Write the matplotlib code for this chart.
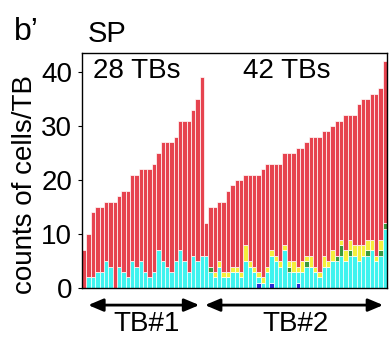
import numpy as np
import matplotlib.pyplot as plt

plt.rcParams['font.family'] = ['Liberation Sans', 'DejaVu Sans']

# TB#1 (28 TBs) and TB#2 (42 TBs), counts of cells per TB
total1 = [7, 10, 14, 15, 15, 16, 16, 16, 17, 18, 18, 21, 21, 22, 22, 22, 23, 25,
          27, 27, 27, 28, 31, 31, 31, 33, 35, 39]
cyan1 = [0, 2, 2, 3, 3, 5, 4, 0, 4, 3, 2, 5, 4, 5, 3, 2, 3, 7, 5, 4, 3, 5, 7, 5,
         3, 6, 5, 6]

total2 = [12, 15, 15, 16, 16, 18, 19, 20, 20, 21, 21, 21, 21, 22, 23, 23, 23, 23,
          25, 25, 25, 26, 26, 27, 28, 28, 28, 29, 29, 30, 31, 31, 32, 32, 32, 34,
          35, 35, 36, 36, 37, 42]
blue2 = [0, 0, 0, 0, 0, 0, 0, 0, 0, 0, 0, 0, 1, 0, 0, 1, 0, 0, 0, 0, 0, 1, 0, 0,
         0, 0, 0, 0, 0, 0, 0, 0, 0, 0, 0, 0, 0, 0, 0, 0, 0, 0]
cyan2 = [6, 3, 2, 4, 2, 2, 3, 3, 2, 5, 4, 3, 1, 1, 3, 5, 5, 4, 7, 3, 3, 2, 3, 4,
         4, 3, 2, 4, 4, 5, 5, 6, 5, 6, 6, 5, 6, 6, 7, 5, 6, 11]
green2 = [0, 1, 0, 0, 0, 0, 0, 0, 0, 0, 0, 0, 0, 0, 0, 0, 0, 0, 0, 1, 0, 0, 0, 1,
          0, 0, 0, 0, 0, 0, 1, 2, 0, 1, 0, 0, 0, 1, 0, 0, 1, 1]
yellow2 = [0, 0, 1, 1, 1, 1, 1, 1, 1, 3, 1, 1, 1, 1, 1, 1, 1, 1, 1, 1, 2, 1, 2, 1,
           2, 1, 1, 2, 1, 2, 0, 1, 2, 2, 2, 3, 2, 2, 2, 1, 2, 0]

n1, n2 = len(total1), len(total2)
blue = np.array([0] * n1 + blue2)
cyan = np.array(cyan1 + cyan2)
green = np.array([0] * n1 + green2)
yellow = np.array([0] * n1 + yellow2)
total = np.array(total1 + total2)
red = total - blue - cyan - green - yellow

x = np.arange(n1 + n2)

fig = plt.figure(figsize=(3.89, 3.37), dpi=100)
ax = fig.add_axes([0.211, 0.145, 0.784, 0.699])

layers = [(blue, '#2b2bd6'), (cyan, '#3ff3ef'), (green, '#3a9a3e'),
          (yellow, '#f4ef3c'), (red, '#e6434f')]
bottom = np.zeros(len(x))
for vals, col in layers:
    ax.bar(x, vals, bottom=bottom, width=1.0, color=col,
           edgecolor='white', linewidth=0.5)
    bottom = bottom + vals

ax.set_xlim(-0.5, n1 + n2 - 0.5)
ax.set_ylim(0, 43.6)
ax.set_xticks([])
ax.set_yticks([0, 10, 20, 30, 40])
ax.tick_params(axis='y', labelsize=20, length=3, width=0.8, pad=4)
for s in ax.spines.values():
    s.set_linewidth(1.0)
ax.set_ylabel('counts of cells/TB', fontsize=20)
ax.yaxis.set_label_coords(-0.145, 0.44)

ax.text(0.036, 0.92, '28 TBs', transform=ax.transAxes, fontsize=20,
        ha='left', va='center')
ax.text(0.67, 0.92, '42 TBs', transform=ax.transAxes, fontsize=20,
        ha='center', va='center')
fig.text(0.226, 0.90, 'SP', fontsize=21, ha='left', va='center')
fig.text(0.035, 0.905, 'b\u2019', fontsize=23, ha='left', va='center')

# brackets under the bars
aprops = dict(arrowstyle='<|-|>,head_length=0.9,head_width=0.38', lw=2,
              color='black', shrinkA=0, shrinkB=0)
ax.annotate('', xy=(0.9, -0.072), xytext=(26.4, -0.072),
            xycoords=('data', 'axes fraction'),
            textcoords=('data', 'axes fraction'), arrowprops=aprops,
            annotation_clip=False)
ax.annotate('', xy=(27.7, -0.072), xytext=(68.6, -0.072),
            xycoords=('data', 'axes fraction'),
            textcoords=('data', 'axes fraction'), arrowprops=aprops,
            annotation_clip=False)
ax.text(14.2, -0.153, 'TB#1', transform=ax.get_xaxis_transform(),
        fontsize=20, ha='center', va='center')
ax.text(48.4, -0.153, 'TB#2', transform=ax.get_xaxis_transform(),
        fontsize=20, ha='center', va='center')

fig.savefig('out.png', dpi=100)
